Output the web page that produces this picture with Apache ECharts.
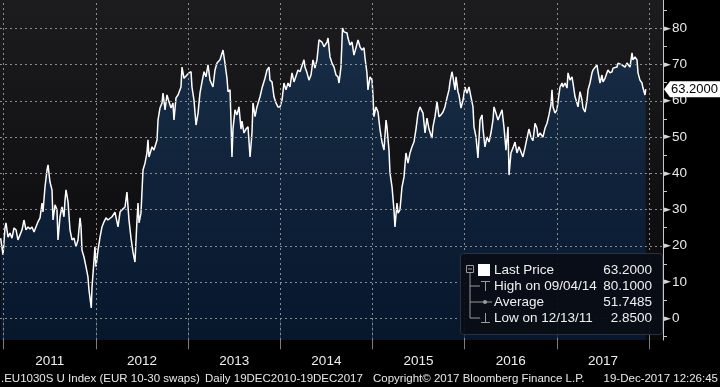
<!DOCTYPE html>
<html><head><meta charset="utf-8">
<script src="https://cdn.jsdelivr.net/npm/echarts@6/dist/echarts.min.js"></script>
<style>html,body{margin:0;padding:0;background:#000}#c{width:720px;height:387px}</style>
</head><body><div id="c"></div>
<script>
// [decimal year, price]
const priceSeries = [
[2010.967,22.1],[2010.993,17.5],[2011.014,24.9],[2011.025,26.3],[2011.047,22.4],[2011.068,23.5],[2011.090,22.1],[2011.112,24.9],[2011.134,24.4],[2011.155,21.6],[2011.177,23.0],[2011.199,24.4],[2011.220,27.1],[2011.242,24.4],[2011.264,25.2],[2011.285,24.6],[2011.307,25.2],[2011.329,23.8],[2011.350,25.2],[2011.372,26.6],[2011.394,27.7],[2011.416,31.8],[2011.426,29.3],[2011.448,36.2],[2011.470,40.9],[2011.481,42.3],[2011.502,37.6],[2011.524,35.4],[2011.535,27.1],[2011.557,31.3],[2011.578,29.9],[2011.589,21.6],[2011.611,28.0],[2011.632,30.7],[2011.654,28.0],[2011.665,32.6],[2011.676,35.4],[2011.698,32.1],[2011.719,24.4],[2011.741,21.6],[2011.763,22.1],[2011.784,19.7],[2011.806,21.6],[2011.828,27.7],[2011.839,25.2],[2011.849,18.8],[2011.871,16.9],[2011.893,14.2],[2011.914,11.4],[2011.925,7.8],[2011.950,2.85],[2011.958,8.6],[2011.980,16.1],[2011.990,19.7],
[2012.001,14.2],[2012.023,18.8],[2012.045,22.4],[2012.066,25.2],[2012.088,26.6],[2012.110,27.7],[2012.131,27.1],[2012.175,28.0],[2012.207,29.3],[2012.240,25.2],[2012.262,29.3],[2012.283,29.9],[2012.316,30.7],[2012.337,34.8],[2012.359,27.1],[2012.381,22.1],[2012.402,18.3],[2012.424,15.5],[2012.446,27.1],[2012.457,31.8],[2012.468,26.3],[2012.489,29.0],[2012.511,40.9],[2012.533,42.8],[2012.554,45.6],[2012.565,49.2],[2012.576,44.5],[2012.609,47.3],[2012.630,46.4],[2012.663,49.2],[2012.674,54.7],[2012.695,58.0],[2012.717,59.4],[2012.728,62.1],[2012.750,57.5],[2012.771,61.6],[2012.793,59.7],[2012.815,58.0],[2012.836,59.4],[2012.847,54.7],[2012.869,60.8],[2012.891,61.6],[2012.923,63.8],[2012.934,69.3],[2012.956,66.2],[2012.988,67.1],
[2013.010,67.7],[2013.032,68.0],[2013.042,63.8],[2013.064,60.2],[2013.086,53.3],[2013.108,56.6],[2013.129,62.1],[2013.151,65.2],[2013.173,68.0],[2013.194,66.6],[2013.216,69.9],[2013.238,65.7],[2013.270,63.8],[2013.292,68.5],[2013.314,70.4],[2013.346,71.3],[2013.379,74.0],[2013.400,70.4],[2013.422,66.2],[2013.433,62.5],[2013.455,63.0],[2013.465,54.7],[2013.476,44.5],[2013.487,52.2],[2013.509,57.5],[2013.530,56.1],[2013.552,58.3],[2013.574,52.2],[2013.585,54.4],[2013.606,51.1],[2013.628,52.2],[2013.650,52.8],[2013.672,44.5],[2013.693,51.1],[2013.704,59.4],[2013.726,55.6],[2013.747,58.3],[2013.780,61.1],[2013.802,63.5],[2013.812,63.0],[2013.834,66.2],[2013.856,68.5],[2013.878,69.3],[2013.888,65.7],[2013.910,65.2],[2013.932,61.1],[2013.953,59.4],[2013.975,58.3],[2013.997,58.3],
[2014.019,60.2],[2014.040,64.9],[2014.062,63.0],[2014.084,64.9],[2014.105,63.8],[2014.127,67.7],[2014.149,65.2],[2014.170,65.7],[2014.192,68.5],[2014.214,68.0],[2014.235,68.5],[2014.257,71.3],[2014.268,69.3],[2014.290,67.7],[2014.311,65.7],[2014.333,67.1],[2014.355,71.3],[2014.376,69.0],[2014.398,71.3],[2014.420,76.8],[2014.452,76.2],[2014.474,74.9],[2014.507,76.2],[2014.518,77.3],[2014.539,72.1],[2014.561,70.4],[2014.583,69.3],[2014.604,67.1],[2014.626,66.6],[2014.637,64.9],[2014.658,69.3],[2014.675,80.1],[2014.691,79.0],[2014.724,78.7],[2014.734,77.3],[2014.756,75.4],[2014.778,76.2],[2014.799,72.6],[2014.821,74.6],[2014.843,76.8],[2014.865,74.9],[2014.886,74.0],[2014.908,74.6],[2014.919,71.8],[2014.940,67.7],[2014.951,63.0],[2014.973,66.6],[2014.995,65.7],
[2015.006,61.1],[2015.016,55.6],[2015.038,58.3],[2015.060,56.9],[2015.081,52.2],[2015.103,48.6],[2015.125,46.4],[2015.147,54.7],[2015.157,52.8],[2015.179,46.4],[2015.190,40.1],[2015.212,36.2],[2015.233,29.9],[2015.244,25.2],[2015.266,31.8],[2015.277,29.0],[2015.298,29.9],[2015.320,36.2],[2015.342,39.0],[2015.363,45.6],[2015.385,42.8],[2015.407,45.6],[2015.429,47.3],[2015.450,48.6],[2015.472,52.2],[2015.494,56.6],[2015.515,58.3],[2015.548,56.6],[2015.570,51.1],[2015.591,55.2],[2015.613,52.2],[2015.645,49.7],[2015.656,52.8],[2015.678,55.6],[2015.700,59.7],[2015.721,55.6],[2015.743,56.1],[2015.765,56.9],[2015.786,58.3],[2015.808,60.8],[2015.830,63.0],[2015.841,65.2],[2015.862,68.0],[2015.873,66.6],[2015.895,63.0],[2015.906,66.6],[2015.927,62.5],[2015.938,61.6],[2015.960,58.0],[2015.982,60.2],
[2016.003,63.8],[2016.025,62.1],[2016.047,63.8],[2016.068,61.1],[2016.090,58.3],[2016.101,52.8],[2016.123,50.0],[2016.144,44.2],[2016.166,54.7],[2016.188,56.1],[2016.199,52.2],[2016.220,47.3],[2016.242,50.0],[2016.264,48.6],[2016.285,51.1],[2016.307,54.7],[2016.318,58.3],[2016.339,56.6],[2016.361,54.7],[2016.383,56.1],[2016.405,57.5],[2016.426,52.8],[2016.448,46.4],[2016.470,52.8],[2016.481,39.5],[2016.502,45.6],[2016.524,47.0],[2016.546,48.6],[2016.567,45.6],[2016.589,47.3],[2016.611,45.9],[2016.632,44.5],[2016.654,47.0],[2016.676,49.7],[2016.697,52.2],[2016.719,50.0],[2016.741,49.0],[2016.763,53.8],[2016.784,52.4],[2016.795,50.0],[2016.817,51.1],[2016.849,50.0],[2016.871,52.4],[2016.893,53.8],[2016.914,56.1],[2016.936,58.9],[2016.947,63.0],[2016.958,58.3],[2016.980,56.6],
[2017.001,57.5],[2017.012,59.7],[2017.034,63.8],[2017.056,64.9],[2017.066,63.8],[2017.088,64.9],[2017.110,63.5],[2017.121,67.7],[2017.142,65.7],[2017.164,66.6],[2017.175,64.9],[2017.197,61.1],[2017.218,59.4],[2017.229,58.3],[2017.251,62.5],[2017.272,60.2],[2017.283,58.0],[2017.305,56.9],[2017.327,60.2],[2017.338,63.0],[2017.359,64.9],[2017.381,67.7],[2017.392,68.5],[2017.413,69.0],[2017.435,69.9],[2017.446,68.0],[2017.468,64.9],[2017.489,67.1],[2017.500,65.2],[2017.522,66.2],[2017.543,65.7],[2017.554,68.5],[2017.576,67.7],[2017.598,68.0],[2017.609,69.0],[2017.630,68.5],[2017.652,69.3],[2017.663,70.4],[2017.684,70.7],[2017.706,69.9],[2017.717,70.4],[2017.739,69.3],[2017.760,70.4],[2017.771,70.7],[2017.793,69.3],[2017.815,73.2],[2017.825,71.3],[2017.847,72.1],[2017.869,71.3],[2017.880,67.7],[2017.901,65.7],[2017.923,64.9],[2017.934,63.5],[2017.956,61.6],[2017.964,63.2]
];
const yearBounds = [2011, 2012, 2013, 2014, 2015, 2016, 2017, 2018];
const yearLabelPos = [2011.5, 2012.5, 2013.5, 2014.5, 2015.5, 2016.5, 2017.5];
const yTicks = [0, 10, 20, 30, 40, 50, 60, 70, 80];
const yMinorTicks = [-5, 5, 15, 25, 35, 45, 55, 65, 75, 85];
const lastPrice = 63.2;
const legendRows = [
  ['Last Price', '63.2000'],
  ['High on 09/04/14', '80.1000'],
  ['Average', '51.7485'],
  ['Low on 12/13/11', '2.8500']
];
const footLeft = '.EU1030S U Index (EUR 10-30 swaps)';
const footRange = 'Daily 19DEC2010-19DEC2017';
const footCopy = 'Copyright\u00A9 2017 Bloomberg Finance L.P.';
const footDate = '19-Dec-2017 12:26:45';

const FONT = 'Liberation Sans';
const chart = echarts.init(document.getElementById('c'), null, {renderer: 'canvas'});
const gridLine = {type: [2, 3], color: '#8c8c8c', width: 1, opacity: 1};
chart.setOption({
  backgroundColor: '#000',
  animation: false,
  grid: {
    left: 0, right: 57, top: 0, bottom: 47, show: true, borderWidth: 0,
    backgroundColor: new echarts.graphic.LinearGradient(0, 0, 0, 1, [
      {offset: 0, color: '#1c1c1f'}, {offset: 1, color: '#08080b'}
    ])
  },
  xAxis: {
    type: 'value', min: 2010.96, max: 2018.151,
    axisLine: {show: false},
    axisTick: {show: true, customValues: yearBounds, length: 31, lineStyle: {color: '#7c7c7c', width: 1}},
    axisLabel: {customValues: yearLabelPos, margin: 14, color: '#eeeeee', fontFamily: FONT, fontSize: 13.5,
      formatter: v => String(Math.floor(v))},
    splitLine: {show: false}
  },
  yAxis: {
    type: 'value', position: 'right', min: -6, max: 87.8,
    axisLine: {show: true, lineStyle: {color: '#c8c8c8', width: 1}},
    axisTick: {show: true, customValues: yMinorTicks, length: 4, lineStyle: {color: '#c8c8c8'}},
    axisLabel: {customValues: yTicks, margin: 1,
      formatter: v => '{t|\u25BA}{v|' + v + '}',
      rich: {
        t: {fontFamily: 'DejaVu Sans', fontSize: 9, color: '#d8d8d8', padding: [0, 1, 0, 0]},
        v: {fontFamily: FONT, fontSize: 13.5, color: '#e8e8e8'}
      }},
    splitLine: {show: false}
  },
  series: [{
    type: 'line',
    data: priceSeries,
    showSymbol: false,
    symbol: 'none',
    lineStyle: {color: '#ffffff', width: 1.5},
    areaStyle: {
      origin: 'start',
      color: new echarts.graphic.LinearGradient(0, 0, 0, 1, [
        {offset: 0, color: '#173659'}, {offset: 1, color: '#061d3a'}
      ])
    },
    markLine: {
      silent: true, symbol: ['none', 'none'], label: {show: false},
      lineStyle: gridLine, animation: false,
      emphasis: {disabled: true},
      data: yTicks.map(v => ({yAxis: v})).concat(yearBounds.map(v => ({xAxis: v})))
    }
  }]
});

const yc = chart.convertToPixel({yAxisIndex: 0}, lastPrice);
const txt = (x, y, text, opt) => Object.assign({
  type: 'text', x: x, y: y,
  style: Object.assign({text: text, fill: '#f0f0f0', font: '13.5px "' + FONT + '"', textVerticalAlign: 'middle', textAlign: 'left'}, opt || {})
});
const icon = '#9a9a9a';
const rowY = [270, 286, 302, 318];
const g = [
  // legend box
  {type: 'rect', shape: {x: 460.5, y: 253.5, width: 202, height: 81, r: 3},
   style: {fill: 'rgba(9,13,21,0.94)', stroke: '#2a3140', lineWidth: 1}},
  {type: 'rect', shape: {x: 466.5, y: 265.5, width: 7, height: 7}, style: {fill: 'none', stroke: icon, lineWidth: 1}},
  {type: 'line', shape: {x1: 468, y1: 269, x2: 472, y2: 269}, style: {stroke: icon, lineWidth: 1}},
  {type: 'line', shape: {x1: 470, y1: 273, x2: 470, y2: 318}, style: {stroke: icon, lineWidth: 1}},
  {type: 'line', shape: {x1: 470, y1: 286, x2: 480, y2: 286}, style: {stroke: icon, lineWidth: 1}},
  {type: 'line', shape: {x1: 470, y1: 302, x2: 478, y2: 302}, style: {stroke: icon, lineWidth: 1}},
  {type: 'line', shape: {x1: 470, y1: 318, x2: 480, y2: 318}, style: {stroke: icon, lineWidth: 1}},
  {type: 'rect', shape: {x: 478, y: 264, width: 12, height: 12}, style: {fill: '#ffffff'}},
  {type: 'line', shape: {x1: 485.5, y1: 281, x2: 485.5, y2: 291}, style: {stroke: icon, lineWidth: 1}},
  {type: 'line', shape: {x1: 481, y1: 281.5, x2: 490, y2: 281.5}, style: {stroke: icon, lineWidth: 1}},
  {type: 'line', shape: {x1: 478, y1: 302, x2: 492, y2: 302}, style: {stroke: icon, lineWidth: 1}},
  {type: 'circle', shape: {cx: 485, cy: 302, r: 2}, style: {fill: icon}},
  {type: 'line', shape: {x1: 485.5, y1: 313, x2: 485.5, y2: 323}, style: {stroke: icon, lineWidth: 1}},
  {type: 'line', shape: {x1: 481, y1: 322.5, x2: 490, y2: 322.5}, style: {stroke: icon, lineWidth: 1}},
  // last price tag
  {type: 'polygon', shape: {points: [[664, yc], [670, yc - 8], [720, yc - 8], [720, yc + 8], [670, yc + 8]]},
   style: {fill: '#ffffff'}},
  txt(671, yc + 0.5, '63.2000', {fill: '#000000', font: '13px "' + FONT + '"'}),
  // footer
  txt(1, 379, footLeft, {font: '11.5px "' + FONT + '"', fill: '#e8e8e8'}),
  txt(205, 379, footRange, {font: '11.5px "' + FONT + '"', fill: '#e8e8e8'}),
  txt(373, 379, footCopy, {font: '11.5px "' + FONT + '"', fill: '#e8e8e8'}),
  txt(718, 379, footDate, {font: '11.5px "' + FONT + '"', fill: '#e8e8e8', textAlign: 'right'})
];
legendRows.forEach((r, i) => {
  g.push(txt(494, rowY[i], r[0]));
  g.push(txt(652, rowY[i], r[1], {textAlign: 'right'}));
});
chart.setOption({graphic: g.map(e => Object.assign({z: 100, silent: true}, e))});
</script></body></html>
